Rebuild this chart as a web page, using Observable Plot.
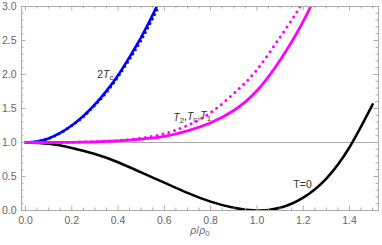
<!DOCTYPE html>
<html><head><meta charset="utf-8">
<script src="https://cdn.jsdelivr.net/npm/d3@7"></script>
<script src="https://cdn.jsdelivr.net/npm/@observablehq/plot@0.6"></script>
<style>body{margin:0;background:#fff}</style>
</head><body><div id="chart"></div>
<script>
// T = 0 curve
const rhoT0 = [0,0.1,0.2,0.3,0.4,0.5,0.6,0.7,0.8,0.9,1.0,1.1,1.2,1.3,1.4,1.5];
const valT0 = [1.0,0.98,0.92,0.83,0.71,0.56,0.41,0.26,0.13,0.04,0.0,0.04,0.19,0.47,0.93,1.56];
// 2Tc curves (solid + dotted)
const rho2Tc = [0,0.05,0.1,0.15,0.2,0.25,0.3,0.35,0.4,0.45,0.5,0.55,0.6];
const val2TcSolid = [1.0,1.015,1.06,1.14,1.25,1.39,1.56,1.76,1.99,2.26,2.55,2.88,3.23];
const val2TcDotted = [1.0,1.015,1.06,1.14,1.25,1.38,1.55,1.74,1.97,2.23,2.51,2.83,3.17];
// T2, Tc, T1 curves
const rhoT = [0,0.1,0.2,0.3,0.4,0.5,0.6,0.7,0.8,0.9,1.0,1.1,1.2,1.3];
const valTSolid = [1.0,1.0,1.003,1.01,1.025,1.05,1.09,1.17,1.29,1.47,1.76,2.21,2.78,3.5];
const valTDotted = [1.0,1.0,1.004,1.014,1.03,1.065,1.13,1.25,1.44,1.72,2.07,2.55,3.08,3.8];
// reference line
const rhoRef = [0,1.5];
const valRef = [1,1];
// ticks
const xTicks = [0,0.2,0.4,0.6,0.8,1.0,1.2,1.4];
const xTickLabels = ["0.0","0.2","0.4","0.6","0.8","1.0","1.2","1.4"];
const yTicks = [0,0.5,1.0,1.5,2.0,2.5,3.0];
const yTickLabels = ["0.0","0.5","1.0","1.5","2.0","2.5","3.0"];
// labels (*X* = italic, _x = subscript)
const labelText = ["2*T*_c","*T*_2,*T*_c,*T*_1","T=0"];
const labelX = [0.345,0.72,1.197];
const labelY = [2.0,1.37,0.38];
const xLabel = "*ρ*/*ρ*_0";

const xMinor = d3.range(1,31).map(i=>i*0.05).filter(v=>Math.abs(v/0.2-Math.round(v/0.2))>1e-6);
const yMinor = d3.range(1,30).map(i=>i*0.1).filter(v=>Math.abs(v/0.5-Math.round(v/0.5))>1e-6);

const W=382,H=245,mL=21,mR=4,mT=6,mB=35;
const pW=W-mL-mR, pH=H-mT-mB;
const fc="#aaaaaa";
const pts=(xs,ys)=>xs.map((x,i)=>({x,y:ys[i]}));
const labels = labelText.map((t,i)=>({t,x:labelX[i],y:labelY[i]}));

const chart = Plot.plot({
  width:W,height:H,marginLeft:mL,marginRight:mR,marginTop:mT,marginBottom:mB,
  style:{fontFamily:"'Liberation Sans', Arial, sans-serif",fontSize:"10.5px",background:"#fff"},
  x:{domain:[-0.01728,1.5253]},
  y:{domain:[0,3]},
  marks:[
    Plot.line(pts(rhoRef,valRef),{x:"x",y:"y",stroke:"#aaaaaa",strokeWidth:1}),
    Plot.line(pts(rhoT0,valT0),{x:"x",y:"y",stroke:"black",strokeWidth:2.5,curve:"natural",clip:true}),
    Plot.line(pts(rho2Tc,val2TcDotted),{x:"x",y:"y",stroke:"#0000ff",strokeWidth:3,strokeDasharray:"0,5",strokeLinecap:"round",curve:"natural",clip:true}),
    Plot.line(pts(rho2Tc,val2TcSolid),{x:"x",y:"y",stroke:"#0000ff",strokeWidth:2.6,curve:"natural",clip:true}),
    Plot.line(pts(rhoT,valTSolid),{x:"x",y:"y",stroke:"#ff00ff",strokeWidth:2.8,curve:"natural",clip:true}),
    Plot.line(pts(rhoT,valTDotted),{x:"x",y:"y",stroke:"#ff00ff",strokeWidth:3,strokeDasharray:"0,6",strokeLinecap:"round",curve:"natural",clip:true}),
    Plot.frame({stroke:fc}),
    Plot.tickX(xTicks,{x:d=>d,stroke:fc,insetTop:pH-4.5}),
    Plot.tickX(xTicks,{x:d=>d,stroke:fc,insetBottom:pH-4.5}),
    Plot.tickX(xMinor,{x:d=>d,stroke:fc,insetTop:pH-2.5}),
    Plot.tickX(xMinor,{x:d=>d,stroke:fc,insetBottom:pH-2.5}),
    Plot.tickY(yTicks,{y:d=>d,stroke:fc,insetRight:pW-4.5}),
    Plot.tickY(yTicks,{y:d=>d,stroke:fc,insetLeft:pW-4.5}),
    Plot.tickY(yMinor,{y:d=>d,stroke:fc,insetRight:pW-2.5}),
    Plot.tickY(yMinor,{y:d=>d,stroke:fc,insetLeft:pW-2.5}),
    Plot.axisX(xTicks,{tickSize:0,tickPadding:6,fill:"#666",tickFormat:d=>xTickLabels[xTicks.indexOf(d)],label:null}),
    Plot.axisY(yTicks,{tickSize:0,tickPadding:5,fill:"#666",tickFormat:d=>yTickLabels[yTicks.indexOf(d)],label:null}),
    Plot.text(labels,{x:"x",y:"y",text:"t",fill:"#333",fontSize:10.5}),
    Plot.text([xLabel],{frameAnchor:"bottom",dy:23,text:d=>d,fill:"#666",fontSize:10.5})
  ]
});

// rich text: *x* italic, _x subscript
function rich(el){
  const s = el.textContent;
  if (!/[_*]/.test(s)) return;
  el.textContent = "";
  const re = /_(.)|\*([^*]+)\*|([^_*]+)/g;
  let m, up=false;
  while ((m = re.exec(s))){
    const ts = document.createElementNS("http://www.w3.org/2000/svg","tspan");
    if (m[1]!==undefined){
      ts.textContent=m[1]; ts.setAttribute("font-size","75%"); ts.setAttribute("dy","0.3em"); up=true;
    } else {
      ts.textContent = m[2]!==undefined?m[2]:m[3];
      if (m[2]!==undefined) ts.setAttribute("font-style","italic");
      if (up){ ts.setAttribute("dy","-0.3em"); up=false; }
    }
    el.appendChild(ts);
  }
}
chart.querySelectorAll("text").forEach(rich);
document.getElementById("chart").appendChild(chart);
</script>
</body></html>
